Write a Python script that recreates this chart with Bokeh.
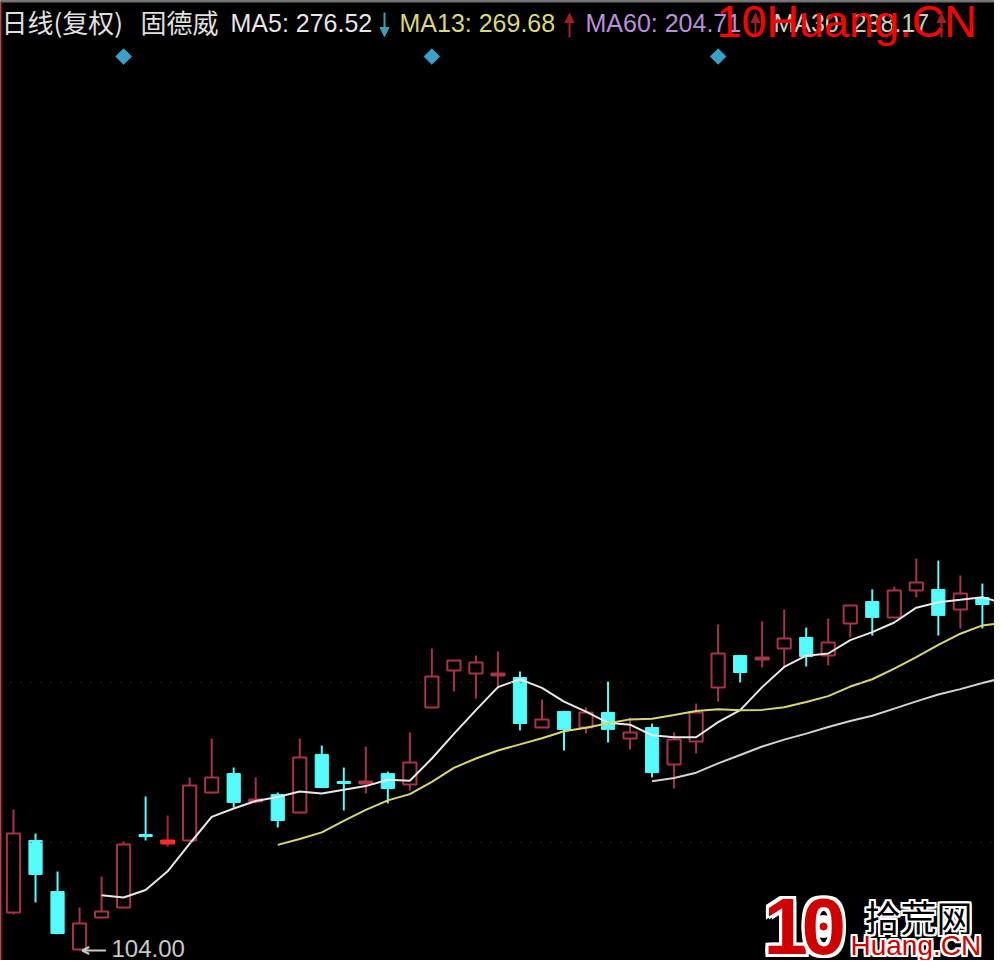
import math
import numpy as np
import pandas as pd
from bokeh.plotting import figure
from bokeh.models import Label, Range1d, ColumnDataSource, Span, Arrow, NormalHead, OpenHead
from bokeh.embed import file_html
from bokeh.resources import INLINE

# ---------------- data (daily candles, restored prices) ----------------
opens = [122.8, 158.5, 133.2, 104.5, 120.4, 125.3, 161.5, 157.0, 158.5, 182.3,
         191.7, 177.9, 181.3, 172.4, 201.2, 187.8, 186.8, 191.7, 186.3, 224.5,
         242.8, 241.3, 240.3, 239.3, 214.5, 222.5, 214.5, 222.0, 209.1, 214.5,
         196.2, 207.6, 234.4, 250.2, 248.2, 253.7, 259.2, 250.2, 266.1, 277.0,
         269.1, 282.5, 283.0, 273.0, 279.0, 274.0]
highs = [173.9, 162.0, 143.2, 125.3, 140.7, 158.0, 180.3, 170.9, 189.8, 209.1,
         194.7, 189.8, 182.3, 209.1, 205.6, 194.7, 205.1, 192.7, 212.1, 253.7,
         248.0, 250.2, 252.2, 242.3, 228.4, 222.8, 224.5, 237.3, 219.5, 216.5,
         212.1, 226.4, 265.6, 250.5, 267.1, 273.0, 264.1, 268.6, 275.3, 283.0,
         284.4, 298.3, 297.3, 289.9, 285.9, 277.5]
lows = [121.8, 127.8, 112.0, 104.0, 120.0, 125.0, 158.5, 155.6, 158.0, 181.8,
        174.9, 176.9, 165.0, 172.0, 184.5, 173.4, 181.8, 176.9, 183.3, 224.0,
        232.4, 228.9, 233.9, 213.1, 214.3, 203.1, 211.6, 207.1, 203.6, 189.8,
        184.3, 201.7, 227.4, 236.8, 244.3, 244.3, 244.8, 245.3, 259.2, 260.1,
        268.8, 279.0, 260.1, 263.6, 263.6, 262.6]
closes = [162.0, 141.7, 112.4, 117.4, 123.3, 156.5, 160.5, 158.5, 185.8, 189.8,
          177.4, 178.9, 168.4, 199.7, 184.8, 186.8, 187.8, 184.3, 197.2, 239.8,
          247.8, 246.8, 241.3, 216.5, 218.5, 213.6, 222.0, 213.6, 212.1, 192.2,
          208.6, 222.0, 251.2, 241.8, 249.2, 258.7, 249.7, 256.7, 275.0, 269.1,
          282.5, 286.4, 270.1, 281.0, 275.5, 267.6]
ma_periods = [5, 13, 30]
event_idx = [5, 19, 32]          # info-mine markers
grid_levels = [157.5, 236.8]     # faint dotted price levels
header_name = ["日线(复权)", "固德威"]
header_ma = ["MA5: 276.52", "MA13: 269.68", "MA60: 204.71", "MA30: 238.17"]
header_dir = ["down", "up", "up", "up"]

# ---------------- layout constants ----------------
W, H = 994, 960
K = 0.4957                      # price per pixel
X0, DX = 13.0, 22.02            # px of first candle, spacing
LOWPX = 950.0                   # px of 104.00


def px2x(px):
    return (px - X0) / DX


def py2y(py):
    return 104 + (LOWPX - py) * K


def sx(px):
    return px


def sy(py):
    return H - py


RED = "#A83448"
CYAN = "#54FCFC"
BRIGHT = "#FF2A2A"

p = figure(width=W, height=H, output_backend="svg", toolbar_location=None,
           x_range=Range1d(px2x(0), px2x(W)), y_range=Range1d(py2y(H), py2y(0)),
           background_fill_color="black", border_fill_color="black",
           min_border=0, x_axis_location=None, y_axis_location=None)
p.grid.visible = False
p.outline_line_color = None

for lv in grid_levels:
    p.add_layout(Span(location=lv, dimension="width", line_color="#3c3c3c",
                      line_dash="1 9", line_width=1))
# frame edges: dark red left axis, grey top border
p.add_layout(Span(location=px2x(1), dimension="height", line_color="#6A0A0A", line_width=2))
p.add_layout(Span(location=py2y(1), dimension="width", line_color="#707070", line_width=2))

df = pd.DataFrame(dict(i=np.arange(len(closes)), o=opens, h=highs, l=lows, c=closes))
df["top"] = df[["o", "c"]].max(axis=1)
df["bot"] = df[["o", "c"]].min(axis=1)
bright = {7}
up = (df.c >= df.o) & (~df.i.isin(bright))
dn = df.c < df.o
br = df.i.isin(bright)

su = ColumnDataSource(df[up])
sd = ColumnDataSource(df[dn])
sb = ColumnDataSource(df[br])

p.segment(x0="i", y0="h", x1="i", y1="l", source=su, line_color=RED, line_width=2)
p.vbar(x="i", width=0.6, top="top", bottom="bot", source=su,
       fill_color="black", line_color=RED, line_width=2)
p.segment(x0="i", y0="h", x1="i", y1="l", source=sb, line_color="#B02030", line_width=2)
p.vbar(x="i", width=0.6, top="top", bottom="bot", source=sb,
       fill_color=BRIGHT, line_color=BRIGHT, line_width=2)
p.segment(x0="i", y0="h", x1="i", y1="l", source=sd, line_color=CYAN, line_width=2)
p.vbar(x="i", width=0.6, top="top", bottom="bot", source=sd,
       fill_color=CYAN, line_color=CYAN, line_width=1)

ma_colors = {5: "#E8E8E8", 13: "#D8D872", 30: "#D2D2D2"}
for n in ma_periods:
    ma = df.c.rolling(n).mean()
    p.line(df.i, ma, line_color=ma_colors[n], line_width=2)

# info markers
p.scatter(event_idx, [py2y(56)] * len(event_idx), marker="square", angle=math.pi / 4,
          size=11, fill_color="#3AA0C8", line_color="#3AA0C8")

# lowest-price annotation
li = int(np.argmin(lows))
lo = lows[li]
p.add_layout(Arrow(end=OpenHead(size=7, line_color="#C8C8C8", line_width=2),
                   x_start=li + 1.2, y_start=lo, x_end=li + 0.12, y_end=lo,
                   line_color="#C8C8C8", line_width=2))
p.add_layout(Label(x=li + 1.45, y=lo, y_offset=2, text=f"{lo:.2f}", text_font="Liberation Sans",
                   text_font_size="24px", text_color="#C8C8C8", text_baseline="middle"))


# text helper: (px, py) = left edge / vertical centre of the text
def lab(px, py, text, color, size="25px", font="Liberation Sans", style="normal", dx=0, dy=0):
    p.add_layout(Label(x=sx(px), y=sy(py), x_units="screen", y_units="screen", text=text,
                       text_font=font, text_font_size=size, text_color=color,
                       text_font_style=style, text_baseline="middle",
                       x_offset=dx, y_offset=dy))


lab(1, 21, header_name[0], "#E0E0E0", size="26px", font="Noto Sans CJK SC")
lab(140, 21, header_name[1], "#E0E0E0", size="26px", font="Noto Sans CJK SC")
ma_x = [230, 399, 585, 773]
ma_c = ["#E6E6E6", "#D8D87A", "#B890DC", "#C8D4C0"]
arr_x = [384, 569, 755, 941]
for t, x, c in zip(header_ma, ma_x, ma_c):
    lab(x, 22, t, c)
for d, x in zip(header_dir, arr_x):
    col = "#3CA0B4" if d == "down" else "#A01E24"
    if d == "down":
        ys, ye = 12, 36
    else:
        ys, ye = 37, 13
    p.add_layout(Arrow(end=NormalHead(size=9, fill_color=col, line_color=col),
                       x_start=sx(x), y_start=sy(ys), x_end=sx(x), y_end=sy(ye),
                       start_units="screen", end_units="screen",
                       line_color=col, line_width=2))

# watermark
lab(716, 21, "10Huang.CN", "#FF0000", size="45px")


# logo (bottom right)
def outlined(px, py, text, color, size, font, style="normal", w=2):
    for ox in (-w, 0, w):
        for oy in (-w, 0, w):
            if ox or oy:
                lab(px, py, text, "white", size=size, font=font, style=style, dx=ox, dy=oy)
    lab(px, py, text, color, size=size, font=font, style=style)


outlined(763, 926, "1", "#D00000", "80px", "Liberation Sans", "bold", 3)
outlined(801, 926, "0", "#D00000", "80px", "Liberation Sans", "bold", 3)
p.scatter([px2x(823)], [py2y(926)], marker="circle", size=22, fill_color="white", line_color="white")
p.scatter([px2x(823)], [py2y(926)], marker="circle", size=7, fill_color="#D00000", line_color="#D00000")
outlined(864, 915, "拾荒网", "black", "36px", "Noto Sans CJK SC", "normal", 2)
outlined(850, 945, "Huang.CN", "#D00000", "28px", "Liberation Sans", "normal", 2)

open("out.html", "w").write(file_html(p, INLINE))
